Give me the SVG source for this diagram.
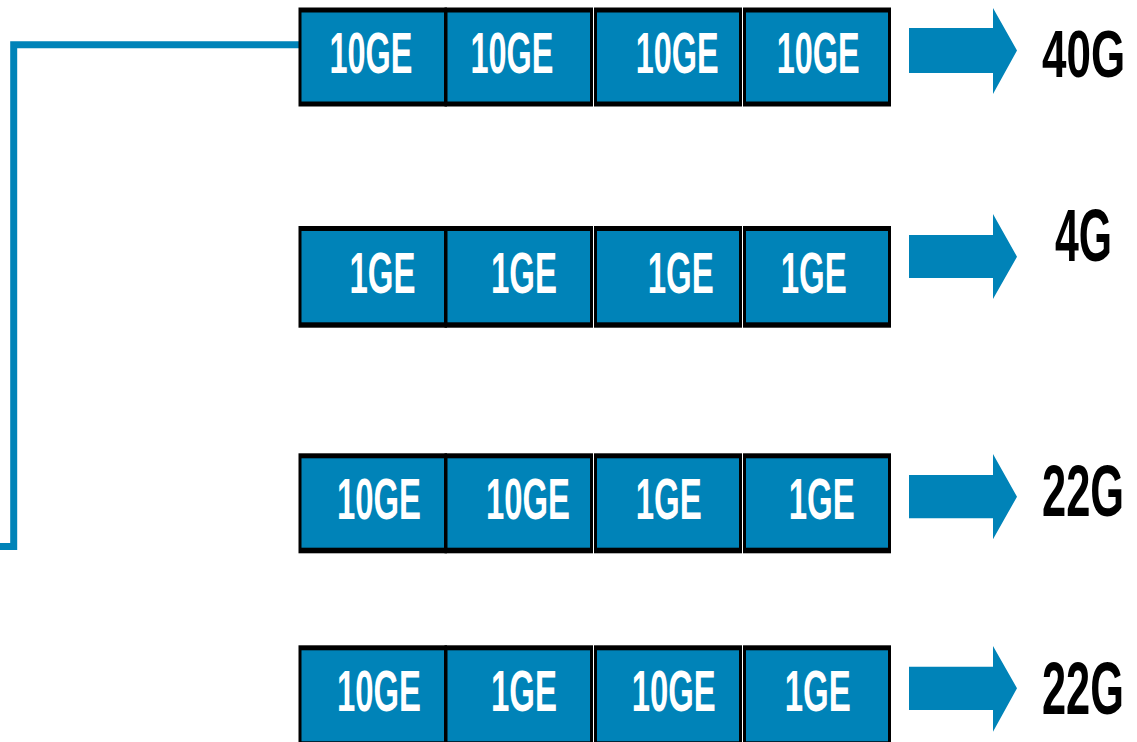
<svg xmlns="http://www.w3.org/2000/svg" width="1137" height="742" viewBox="0 0 1137 742">
<style>
.o{fill:#000}
.i{fill:#0083B8}
.t{font-family:"Liberation Sans",Arial,sans-serif;font-weight:bold;font-size:57px;fill:#fff}
.l{font-family:"Liberation Sans",Arial,sans-serif;font-weight:bold;font-size:74px;fill:#000}
.ar{fill:#0083B8}
.c{fill:none;stroke:#0083B8;stroke-width:7}
</style>
<rect width="1137" height="742" fill="#fff"/>
<g id="connectors">
<polyline class="c" points="0,546.5 13.7,546.5 13.7,44.7 300,44.7"/>
</g>
<!-- Row 1 -->
<g id="r1b1"><rect class="o" x="298.5" y="7.5" width="148.5" height="99"/><rect class="i" x="301.5" y="12.5" width="142.5" height="89"/><text class="t" x="329.5" y="72.7" textLength="83" lengthAdjust="spacingAndGlyphs">10GE</text></g>
<g id="r1b2"><rect class="o" x="444.5" y="7.5" width="148.5" height="99"/><rect class="i" x="447.5" y="12.5" width="142.5" height="89"/><text class="t" x="470.5" y="72.7" textLength="83" lengthAdjust="spacingAndGlyphs">10GE</text></g>
<g id="r1b3"><rect class="o" x="594" y="7.5" width="148" height="99"/><rect class="i" x="597" y="12.5" width="142" height="89"/><text class="t" x="635.7" y="72.7" textLength="83" lengthAdjust="spacingAndGlyphs">10GE</text></g>
<g id="r1b4"><rect class="o" x="743" y="7.5" width="148" height="99"/><rect class="i" x="746" y="12.5" width="142" height="89"/><text class="t" x="776.7" y="72.7" textLength="83" lengthAdjust="spacingAndGlyphs">10GE</text></g>
<g id="r1arrow"><polygon class="ar" points="909,28 993,28 993,8 1017,50.5 993,94 993,73 909,73"/></g>
<g id="r1label"><text class="l" transform="translate(1042,77) scale(0.666,1)" style="font-size:66px">40G</text></g>
<!-- Row 2 -->
<g id="r2b1"><rect class="o" x="298.5" y="226" width="148.5" height="101.7"/><rect class="i" x="301.5" y="231" width="142.5" height="91.3"/><text class="t" x="349.4" y="292.7" textLength="66" lengthAdjust="spacingAndGlyphs">1GE</text></g>
<g id="r2b2"><rect class="o" x="444.5" y="226" width="148.5" height="101.7"/><rect class="i" x="447.5" y="231" width="142.5" height="91.3"/><text class="t" x="491" y="292.7" textLength="66" lengthAdjust="spacingAndGlyphs">1GE</text></g>
<g id="r2b3"><rect class="o" x="594" y="226" width="148" height="101.7"/><rect class="i" x="597" y="231" width="142" height="91.3"/><text class="t" x="647.7" y="292.7" textLength="66" lengthAdjust="spacingAndGlyphs">1GE</text></g>
<g id="r2b4"><rect class="o" x="743" y="226" width="148" height="101.7"/><rect class="i" x="746" y="231" width="142" height="91.3"/><text class="t" x="780.7" y="292.7" textLength="66" lengthAdjust="spacingAndGlyphs">1GE</text></g>
<g id="r2arrow"><polygon class="ar" points="909,235 993,235 993,214 1017,256.7 993,299 993,278 909,278"/></g>
<g id="r2label"><text class="l" transform="translate(1055,261) scale(0.578,1)">4G</text></g>
<!-- Row 3 -->
<g id="r3b1"><rect class="o" x="298.5" y="453.3" width="148.5" height="100"/><rect class="i" x="301.5" y="458.3" width="142.5" height="89.4"/><text class="t" x="337" y="519.3" textLength="84" lengthAdjust="spacingAndGlyphs">10GE</text></g>
<g id="r3b2"><rect class="o" x="444.5" y="453.3" width="148.5" height="100"/><rect class="i" x="447.5" y="458.3" width="142.5" height="89.4"/><text class="t" x="486" y="519.3" textLength="84" lengthAdjust="spacingAndGlyphs">10GE</text></g>
<g id="r3b3"><rect class="o" x="594" y="453.3" width="148" height="100"/><rect class="i" x="597" y="458.3" width="142" height="89.4"/><text class="t" x="635.7" y="519.3" textLength="66" lengthAdjust="spacingAndGlyphs">1GE</text></g>
<g id="r3b4"><rect class="o" x="743" y="453.3" width="148" height="100"/><rect class="i" x="746" y="458.3" width="142" height="89.4"/><text class="t" x="788.7" y="519.3" textLength="66" lengthAdjust="spacingAndGlyphs">1GE</text></g>
<g id="r3arrow"><polygon class="ar" points="909,475 993,475 993,454 1017,496.7 993,539.3 993,518.3 909,518.3"/></g>
<g id="r3label"><text class="l" transform="translate(1042,516) scale(0.603,1)" style="font-size:72px">22G</text></g>
<!-- Row 4 -->
<g id="r4b1"><rect class="o" x="298.5" y="645.3" width="148.5" height="101"/><rect class="i" x="301.5" y="650.3" width="142.5" height="91"/><text class="t" x="337" y="711.3" textLength="84" lengthAdjust="spacingAndGlyphs">10GE</text></g>
<g id="r4b2"><rect class="o" x="444.5" y="645.3" width="148.5" height="101"/><rect class="i" x="447.5" y="650.3" width="142.5" height="91"/><text class="t" x="491" y="711.3" textLength="66" lengthAdjust="spacingAndGlyphs">1GE</text></g>
<g id="r4b3"><rect class="o" x="594" y="645.3" width="148" height="101"/><rect class="i" x="597" y="650.3" width="142" height="91"/><text class="t" x="631.7" y="711.3" textLength="84" lengthAdjust="spacingAndGlyphs">10GE</text></g>
<g id="r4b4"><rect class="o" x="743" y="645.3" width="148" height="101"/><rect class="i" x="746" y="650.3" width="142" height="91"/><text class="t" x="784.7" y="711.3" textLength="66" lengthAdjust="spacingAndGlyphs">1GE</text></g>
<g id="r4arrow"><polygon class="ar" points="909,666.7 993,666.7 993,646 1017,688.3 993,731.7 993,710 909,710"/></g>
<g id="r4label"><text class="l" transform="translate(1042,714) scale(0.586,1)">22G</text></g>
</svg>
